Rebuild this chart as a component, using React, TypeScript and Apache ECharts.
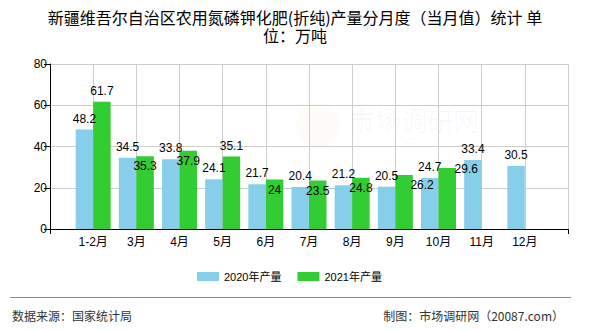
import React, { useEffect, useRef } from "react";
import * as echarts from "echarts";

const months = ["1-2月", "3月", "4月", "5月", "6月", "7月", "8月", "9月", "10月", "11月", "12月"];
const values2020 = [48.2, 34.5, 33.8, 24.1, 21.7, 20.4, 21.2, 20.5, 24.7, 33.4, 30.5];
const values2021 = [61.7, 35.3, 37.9, 35.1, 24, 23.5, 24.8, 26.2, 29.6, null, null];
const yTicks = { min: 0, max: 80, interval: 20 };
const seriesNames = ["2020年产量", "2021年产量"];
// label nudges (styling only) for the 2021 series, as in the reference
const labelShift2021: number[][] = [[0, 0], [0, 21], [0, 21], [0, 0], [0, 21], [0, 21], [0, 21], [18, 21], [19, 12], [0, 0], [0, 0]];

const FONT = "'Liberation Sans', 'Noto Sans CJK SC', sans-serif";
const CJK = "'Noto Sans CJK SC', sans-serif";

export default function App() {
  const ref = useRef<HTMLDivElement>(null);
  useEffect(() => {
    if (!ref.current) return;
    const chart = echarts.init(ref.current, undefined, { renderer: "svg" });
    const cats = ["", ...months, ""];
    const d2020 = [null, ...values2020, null];
    const d2021 = [
      null,
      ...values2021.map((v, i) => ({
        value: v,
        label: { offset: labelShift2021[i] },
      })),
      null,
    ];
    const last = cats.length - 1;
    chart.setOption({
      animation: false,
      legend: {
        data: seriesNames,
        top: 271,
        left: 197,
        padding: 0,
        itemWidth: 22,
        itemHeight: 9,
        itemGap: 16,
        textStyle: { fontSize: 11, color: "#000", fontFamily: FONT },
        icon: "rect",
      },
      grid: { left: 50, right: 22, top: 64, bottom: 101, containLabel: false },
      xAxis: {
        type: "category",
        data: cats,
        boundaryGap: false,
        axisLine: { lineStyle: { color: "#000", width: 1 } },
        axisTick: {
          show: true,
          length: 5,
          interval: (i: number) => i === 0 || i === last,
          lineStyle: { color: "#000" },
        },
        axisLabel: { color: "#000", fontSize: 12, margin: 7, fontFamily: FONT, interval: 0 },
        splitLine: { show: true, lineStyle: { color: "#ccc" }, interval: 0 },
      },
      yAxis: {
        type: "value",
        min: yTicks.min,
        max: yTicks.max,
        interval: yTicks.interval,
        axisLine: { show: true, lineStyle: { color: "#000", width: 1 } },
        axisTick: { show: true, length: 6, lineStyle: { color: "#000" } },
        axisLabel: { color: "#000", fontSize: 12, margin: 3, fontFamily: FONT },
        splitLine: { show: true, lineStyle: { color: "#ccc" } },
      },
      series: [
        {
          name: seriesNames[0],
          type: "bar",
          data: d2020,
          barWidth: 17.5,
          barGap: "0%",
          itemStyle: { color: "#87CEEB" },
          label: { show: true, position: "top", distance: 5, color: "#000", fontSize: 12, fontFamily: FONT },
        },
        {
          name: seriesNames[1],
          type: "bar",
          data: d2021,
          barWidth: 17.5,
          barGap: "0%",
          itemStyle: { color: "#32CD32" },
          label: { show: true, position: "top", distance: 5, color: "#000", fontSize: 12, fontFamily: FONT },
        },
      ],
      graphic: [
        {
          type: "text",
          x: 295,
          y: 8,
          style: {
            text: "新疆维吾尔自治区农用氮磷钾化肥(折纯)产量分月度（当月值）统计 单\n位：万吨",
            align: "center",
            verticalAlign: "top",
            fontSize: 16,
            lineHeight: 18,
            fill: "#000",
            fontFamily: CJK,
          },
          silent: true,
        },
        {
          type: "circle",
          shape: { cx: 318, cy: 125, r: 22 },
          style: { fill: "rgba(245,225,200,0.1)" },
          silent: true,
          z: 0,
        },
        {
          type: "text",
          x: 349,
          y: 106,
          style: {
            text: "市场调研网",
            fontSize: 26,
            fill: "rgba(0,0,0,0.03)",
            fontFamily: CJK,
          },
          silent: true,
          z: 0,
        },
        {
          type: "text",
          x: 355,
          y: 137,
          style: {
            text: "www.20087.com",
            fontSize: 12,
            fill: "rgba(0,0,0,0.03)",
            fontFamily: FONT,
          },
          silent: true,
          z: 0,
        },
        {
          type: "line",
          shape: { x1: 10, y1: 297.5, x2: 571, y2: 297.5 },
          style: { stroke: "#888", lineWidth: 1 },
          silent: true,
        },
        {
          type: "text",
          x: 12,
          y: 309,
          style: {
            text: "数据来源：国家统计局",
            fontSize: 12,
            fill: "#333",
            fontFamily: CJK,
          },
          silent: true,
        },
        {
          type: "text",
          x: 564,
          y: 309,
          style: {
            text: "制图：市场调研网（20087.com）",
            align: "right",
            fontSize: 12,
            fill: "#333",
            fontFamily: CJK,
          },
          silent: true,
        },
      ],
    });
    return () => chart.dispose();
  }, []);
  return (
    <div
      ref={ref}
      style={{ width: 590, height: 330, position: "absolute", left: 0, top: 0 }}
    />
  );
}
